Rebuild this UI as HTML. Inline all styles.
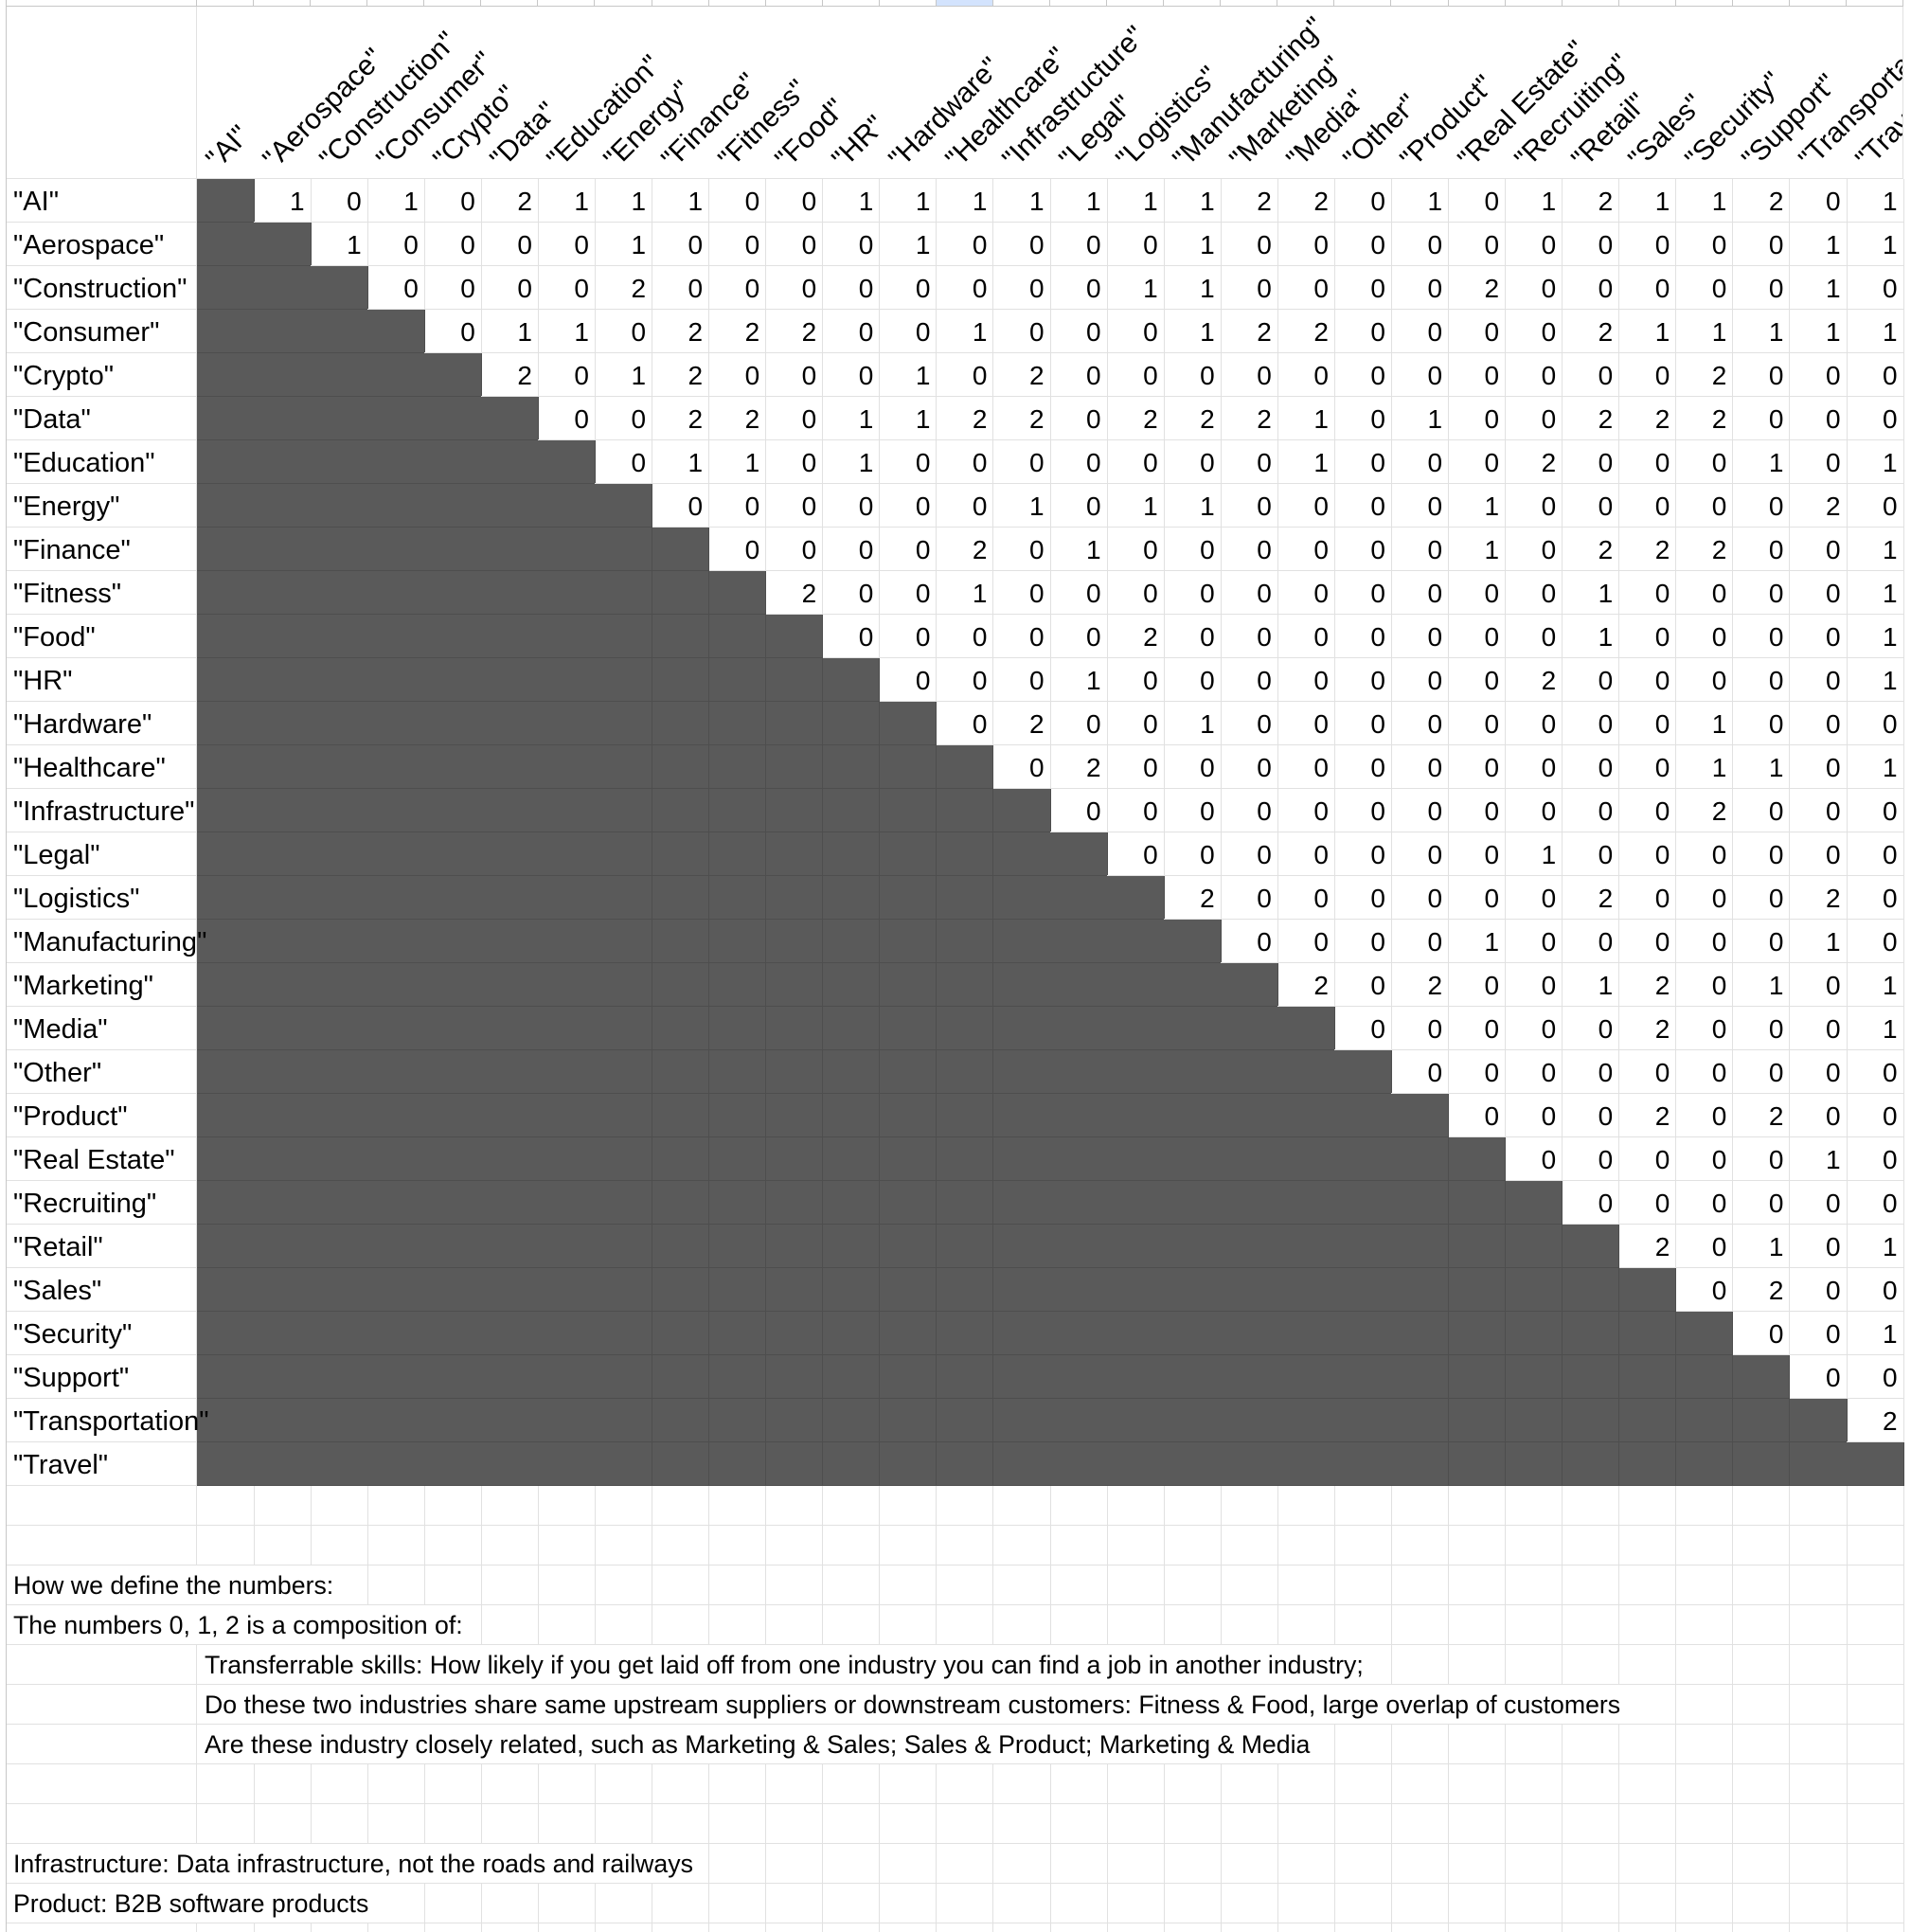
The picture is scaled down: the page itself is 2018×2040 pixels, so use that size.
<!DOCTYPE html>
<html><head><meta charset="utf-8">
<style>
html,body{margin:0;padding:0;background:#fff;}
#sheet{position:relative;width:2018px;height:2040px;overflow:hidden;background:#fff;font-family:"Liberation Sans",Arial,sans-serif;color:#000;}
.c{position:absolute;box-sizing:border-box;border-right:1px solid #e1e1e1;border-bottom:1px solid #e1e1e1;}
.d{background:#5a5a5a;border-right:1px solid #4e4e4e;border-bottom:1px solid #4e4e4e;}
.num{font-size:28px;text-align:right;padding-right:6px;line-height:48px;}
.lbl{position:absolute;font-size:29px;line-height:48px;white-space:nowrap;z-index:3;}
.hd{position:absolute;font-size:30px;line-height:30px;white-space:nowrap;transform-origin:0 100%;transform:rotate(-45deg);}
.note{position:absolute;font-size:26.7px;line-height:42px;white-space:nowrap;z-index:3;}
.cover{position:absolute;background:#fff;z-index:2;}
</style></head>
<body>
<div id="sheet">
<div id="hdclip" style="position:absolute;left:208px;top:7px;width:1802px;height:182px;overflow:hidden;"></div>
</div>
<script>
const categories=["AI","Aerospace","Construction","Consumer","Crypto","Data","Education","Energy","Finance","Fitness","Food","HR","Hardware","Healthcare","Infrastructure","Legal","Logistics","Manufacturing","Marketing","Media","Other","Product","Real Estate","Recruiting","Retail","Sales","Security","Support","Transportation","Travel"];
const rowAI=[1,0,1,0,2,1,1,1,0,0,1,1,1,1,1,1,1,2,2,0,1,0,1,2,1,1,2,0,1];
const rowAerospace=[1,0,0,0,0,1,0,0,0,0,1,0,0,0,0,1,0,0,0,0,0,0,0,0,0,0,1,1];
const rowConstruction=[0,0,0,0,2,0,0,0,0,0,0,0,0,1,1,0,0,0,0,2,0,0,0,0,0,1,0];
const rowConsumer=[0,1,1,0,2,2,2,0,0,1,0,0,0,1,2,2,0,0,0,0,2,1,1,1,1,1];
const rowCrypto=[2,0,1,2,0,0,0,1,0,2,0,0,0,0,0,0,0,0,0,0,0,2,0,0,0];
const rowData=[0,0,2,2,0,1,1,2,2,0,2,2,2,1,0,1,0,0,2,2,2,0,0,0];
const rowEducation=[0,1,1,0,1,0,0,0,0,0,0,0,1,0,0,0,2,0,0,0,1,0,1];
const rowEnergy=[0,0,0,0,0,0,1,0,1,1,0,0,0,0,1,0,0,0,0,0,2,0];
const rowFinance=[0,0,0,0,2,0,1,0,0,0,0,0,0,1,0,2,2,2,0,0,1];
const rowFitness=[2,0,0,1,0,0,0,0,0,0,0,0,0,0,1,0,0,0,0,1];
const rowFood=[0,0,0,0,0,2,0,0,0,0,0,0,0,1,0,0,0,0,1];
const rowHR=[0,0,0,1,0,0,0,0,0,0,0,2,0,0,0,0,0,1];
const rowHardware=[0,2,0,0,1,0,0,0,0,0,0,0,0,1,0,0,0];
const rowHealthcare=[0,2,0,0,0,0,0,0,0,0,0,0,1,1,0,1];
const rowInfrastructure=[0,0,0,0,0,0,0,0,0,0,0,2,0,0,0];
const rowLegal=[0,0,0,0,0,0,0,1,0,0,0,0,0,0];
const rowLogistics=[2,0,0,0,0,0,0,2,0,0,0,2,0];
const rowManufacturing=[0,0,0,0,1,0,0,0,0,0,1,0];
const rowMarketing=[2,0,2,0,0,1,2,0,1,0,1];
const rowMedia=[0,0,0,0,0,2,0,0,0,1];
const rowOther=[0,0,0,0,0,0,0,0,0];
const rowProduct=[0,0,0,2,0,2,0,0];
const rowRealEstate=[0,0,0,0,0,1,0];
const rowRecruiting=[0,0,0,0,0,0];
const rowRetail=[2,0,1,0,1];
const rowSales=[0,2,0,0];
const rowSecurity=[0,0,1];
const rowSupport=[0,0];
const rowTransportation=[2];
const rowTravel=[];
const matrixRows=[rowAI,rowAerospace,rowConstruction,rowConsumer,rowCrypto,rowData,rowEducation,rowEnergy,rowFinance,rowFitness,rowFood,rowHR,rowHardware,rowHealthcare,rowInfrastructure,rowLegal,rowLogistics,rowManufacturing,rowMarketing,rowMedia,rowOther,rowProduct,rowRealEstate,rowRecruiting,rowRetail,rowSales,rowSecurity,rowSupport,rowTransportation,rowTravel];
const notes=[
 {row:2,col:-1,text:"How we define the numbers:"},
 {row:3,col:-1,text:"The numbers 0, 1, 2 is a composition of:"},
 {row:4,col:0,text:"Transferrable skills: How likely if you get laid off from one industry you can find a job in another industry;"},
 {row:5,col:0,text:"Do these two industries share same upstream suppliers or downstream customers: Fitness & Food, large overlap of customers"},
 {row:6,col:0,text:"Are these industry closely related, such as Marketing & Sales; Sales & Product; Marketing & Media"},
 {row:9,col:-1,text:"Infrastructure: Data infrastructure, not the roads and railways"},
 {row:10,col:-1,text:"Product: B2B software products"}
];

const S=document.getElementById('sheet');
const hd=document.getElementById('hdclip');
const X0=208,CW=60.07,Y0=189,RH=46,AX=6,N=categories.length;
const BY=Y0+N*RH,BRH=42;
function colX(j){return X0+j*CW;}
function rowY(i){return Y0+i*RH;}
function add(parent,cls,l,t,w,h){const e=document.createElement('div');e.className=cls;e.style.left=l+'px';e.style.top=t+'px';if(w!=null)e.style.width=w+'px';if(h!=null)e.style.height=h+'px';parent.appendChild(e);return e;}

for(let j=-1;j<N;j++){
  const l=j<0?AX:colX(j),w=j<0?X0-AX:CW;
  const e=add(S,'c',l,0,w,7);
  
  
  e.style.borderColor='#c7c7c7';
  if(j===13)e.style.background='#d3e3fd';
}
const hc=add(S,'c',AX,7,X0-AX,182);


const hb=add(S,'c',X0,7,2010-X0,182);



categories.forEach((c,j)=>{
  const e=add(hd,'hd',colX(j)-X0+26,172-30-7+12);
  e.textContent='"'+c+'"';
  
  
});

categories.forEach((c,i)=>{
  const y=rowY(i);
  const a=add(S,'c',AX,y,X0-AX,RH);
  
  
  const lb=add(S,'lbl',AX+8,y);
  lb.textContent='"'+c+'"';
  
  
  const vals=matrixRows[i];
  for(let j=0;j<N;j++){
    const dark=j<=i;
    const e=add(S,'c'+(dark?' d':' num'),colX(j),y,CW+0.5,RH);
    
    
    if(!dark){const v=vals[j-i-1];e.textContent=(v===undefined?'':v);}
  }
});

for(let r=0;r<12;r++){
  const y=BY+r*BRH;
  const a=add(S,'c',AX,y,X0-AX,BRH);
  
  
  for(let j=0;j<N;j++){
    const e=add(S,'c',colX(j),y,CW+0.5,BRH);
    
    
  }
}
const lbd=add(S,'',AX,0,1,2040);lbd.style.position='absolute';lbd.style.background='#c7c7c7';



notes.forEach(n=>{
  const y=BY+n.row*BRH;
  const x=n.col<0?AX:colX(n.col);
  const t=add(S,'note',x+8,y);
  t.textContent=n.text;
  
  
  const w=t.getBoundingClientRect().width;
  const end=x+8+w;
  let k=0;while(colX(k)<end+2&&k<N)k++;
  const right=colX(k);
  const cv=add(S,'cover',x+1,y,right-x-2,BRH-1);
  
  
});
</script>
</body></html>
